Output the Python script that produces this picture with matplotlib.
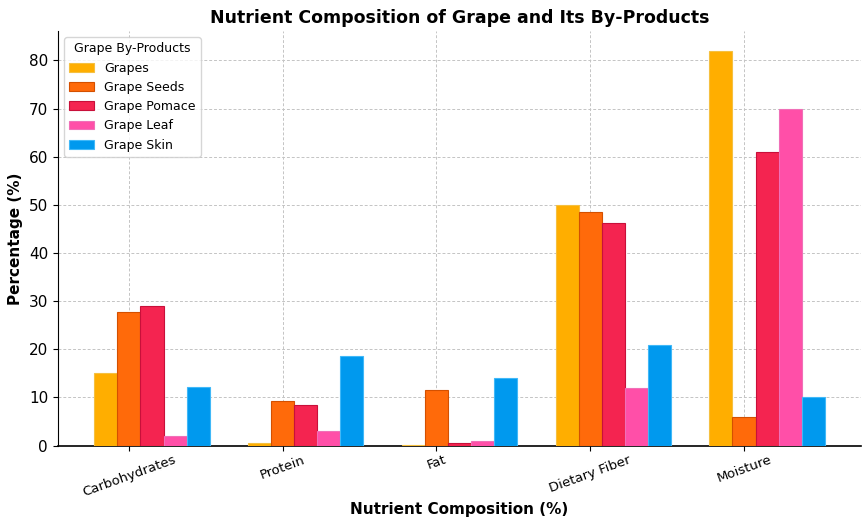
import numpy as np
import matplotlib
matplotlib.use('Agg')
import matplotlib.pyplot as plt

# 数据
nutrients = ['Carbohydrates', 'Protein', 'Fat', 'Dietary Fiber', 'Moisture']
products = ['Grapes', 'Grape Seeds', 'Grape Pomace', 'Grape Leaf', 'Grape Skin']
grapes = [15, 0.5, 0.2, 50, 82]
grape_seeds = [27.7, 9.2, 11.6, 48.5, 6]
grape_pomace = [29, 8.4, 0.5, 46.2, 61]
grape_leaf = [2, 3, 1, 12, 70]
grape_skin = [12.2, 18.7, 14, 20.8, 10]

colors = ['#FFAE00', '#FF6A0A', '#F42450', '#FF4FA8', '#0099EE']
edges = ['#F5C040', '#D45000', '#C8103A', '#F070B8', '#40B8F8']

fig = plt.figure(figsize=(8.63, 5.17), dpi=100)
ax = fig.add_subplot(111)

x = np.arange(len(nutrients))
width = 0.15
series = [grapes, grape_seeds, grape_pomace, grape_leaf, grape_skin]
for i, vals in enumerate(series):
    ax.bar(x + i * width, vals, width, label=products[i],
           color=colors[i], edgecolor=edges[i], linewidth=0.8, zorder=3)

ax.set_title('Nutrient Composition of Grape and Its By-Products',
             fontsize=12.5, fontweight='bold', pad=6)
ax.set_xlabel('Nutrient Composition (%)', fontsize=11, fontweight='bold',
              labelpad=2)
ax.set_ylabel('Percentage (%)', fontsize=11, fontweight='bold')
ax.set_xticks(x + width)
ax.set_xticklabels(nutrients, rotation=20, fontsize=9.5)
ax.tick_params(axis='y', labelsize=11)
ax.tick_params(axis='x', pad=2)
ax.grid(True, linestyle=(0, (3, 2)), color='#c4c4c4', linewidth=0.7, zorder=0)
ax.spines['top'].set_visible(False)
ax.spines['right'].set_visible(False)
ax.spines['bottom'].set_linewidth(1.2)

ax.legend(title='Grape By-Products', loc='upper left', fontsize=9,
          title_fontsize=9)

plt.subplots_adjust(left=0.067, right=0.998, top=0.94, bottom=0.138)
plt.savefig('out.png', dpi=100)
